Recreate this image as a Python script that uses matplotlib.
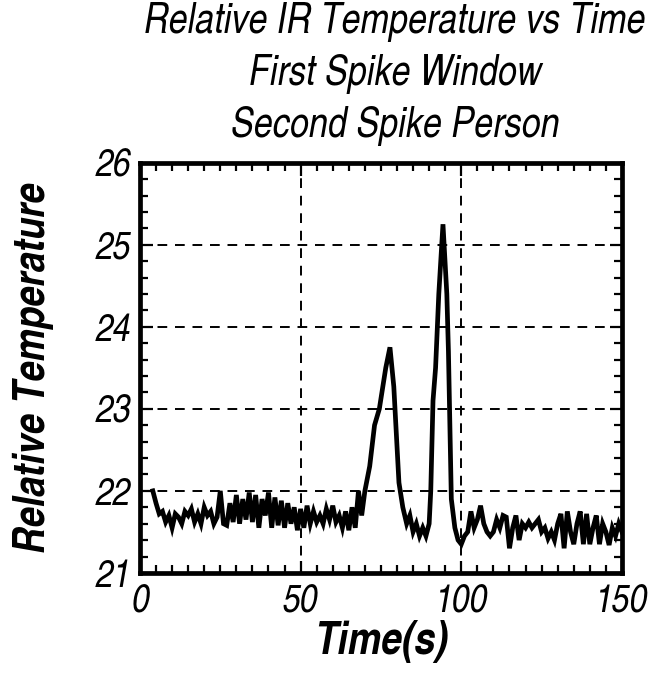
import matplotlib
matplotlib.use("Agg")
import matplotlib.pyplot as plt
from matplotlib.ticker import MultipleLocator

plt.rcParams['font.family'] = ['TeX Gyre Heros Cn', 'DejaVu Sans']

time_s = [4, 5, 6, 7, 8, 9, 10, 11, 12, 13, 14, 15, 16, 17, 18, 19, 20, 21, 22, 23,
          24, 25, 26, 27, 28, 29, 30, 31, 32, 33, 34, 35, 36, 37, 38, 39, 40, 41, 42,
          43, 44, 45, 46, 47, 48, 49, 50, 51, 52, 53, 54, 55, 56, 57, 58, 59, 60, 61,
          62, 63, 64, 65, 66, 67, 68, 69, 70, 71.5, 73, 74.5, 76.5, 77.8, 79, 80.6,
          81.8, 83, 84, 85, 86, 87, 88, 89, 90, 90.5, 91.2, 92, 93, 94.3, 95.5, 96,
          96.9, 98, 99, 100, 101, 102, 103, 104, 105, 106, 107, 108, 109, 110, 111,
          112, 113, 114, 115, 116, 117, 118, 119, 120, 121, 122, 123, 124, 125, 126,
          127, 128, 129, 130, 131, 132, 133, 134, 135, 136, 137, 138, 139, 140, 141,
          142, 143, 144, 145, 146, 147, 148, 149, 150]
temperature = [22.0, 21.85, 21.72, 21.75, 21.62, 21.7, 21.55, 21.72, 21.68, 21.6,
               21.75, 21.7, 21.78, 21.62, 21.72, 21.6, 21.8, 21.7, 21.75, 21.6,
               21.68, 22.0, 21.6, 21.58, 21.85, 21.62, 21.95, 21.6, 21.9, 21.65,
               21.98, 21.62, 21.95, 21.55, 21.9, 21.7, 21.98, 21.55, 21.92, 21.58,
               21.88, 21.55, 21.85, 21.6, 21.8, 21.52, 21.78, 21.55, 21.82, 21.6,
               21.75, 21.62, 21.7, 21.6, 21.78, 21.65, 21.82, 21.62, 21.7, 21.55,
               21.75, 21.52, 21.8, 21.55, 22.0, 21.7, 22.0, 22.3, 22.8, 23.0,
               23.5, 23.75, 23.27, 22.1, 21.8, 21.6, 21.7, 21.5, 21.6, 21.45,
               21.55, 21.45, 21.6, 22.0, 23.1, 23.5, 24.4, 25.25, 24.4, 23.7,
               21.9, 21.55, 21.4, 21.35, 21.45, 21.5, 21.75, 21.55, 21.65, 21.82,
               21.6, 21.5, 21.45, 21.5, 21.65, 21.55, 21.7, 21.68, 21.3, 21.55,
               21.7, 21.4, 21.6, 21.55, 21.62, 21.55, 21.6, 21.65, 21.5, 21.55,
               21.42, 21.5, 21.4, 21.6, 21.72, 21.3, 21.75, 21.5, 21.35, 21.6,
               21.75, 21.35, 21.72, 21.35, 21.55, 21.7, 21.35, 21.6, 21.5, 21.34,
               21.55, 21.45, 21.6, 21.5]

x_ticks = [0, 50, 100, 150]
y_ticks = [21, 22, 23, 24, 25, 26]
title_lines = ["Relative IR Temperature vs Time", "First Spike Window", "Second Spike Person"]

fig = plt.figure(figsize=(6.54, 6.78), dpi=100)
ax = fig.add_axes([0.214, 0.155, 0.737, 0.605])

ax.plot(time_s, temperature, color='black', lw=3.4, solid_joinstyle='miter')

ax.set_xlim(0, 150)
ax.set_ylim(21, 26)
ax.set_xticks(x_ticks)
ax.set_yticks(y_ticks)
ax.xaxis.set_minor_locator(MultipleLocator(5))
ax.yaxis.set_minor_locator(MultipleLocator(0.2))
ax.tick_params(which='both', direction='in', top=True, right=True, width=1.6, color='black')
ax.tick_params(which='major', length=9, labelsize=28)
ax.tick_params(axis='x', which='major', pad=8)
ax.tick_params(axis='y', which='major', pad=6)
ax.tick_params(which='minor', length=6)
for lbl in ax.get_xticklabels() + ax.get_yticklabels():
    lbl.set_fontstyle('italic')

for s in ax.spines.values():
    s.set_linewidth(3.4)

ax.grid(True, which='major', color='black', linestyle=(0, (5, 4)), linewidth=1.4)

ax.set_xlabel("Time(s)", fontsize=33, fontweight='bold', fontstyle='italic', labelpad=0)
ax.set_ylabel("Relative Temperature", fontsize=32, fontweight='bold', fontstyle='italic', labelpad=30)

fig.text(0.604, 0.997, "\n".join(title_lines), ha='center', va='top', fontsize=30,
         fontstyle='italic', linespacing=1.38)

fig.savefig("out.png", dpi=100)
